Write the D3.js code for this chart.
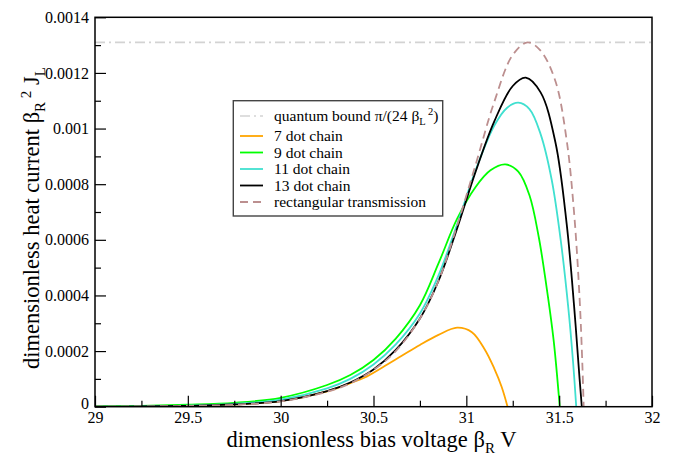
<!DOCTYPE html>
<html>
<head>
<meta charset="utf-8">
<script src="https://cdn.jsdelivr.net/npm/d3@7"></script>
<style>
  html, body { margin: 0; padding: 0; background: #fff; }
  svg { display: block; }
  text { font-family: "Liberation Serif", "DejaVu Serif", serif; }
</style>
</head>
<body>
<svg id="chart" width="680" height="459"></svg>
<script>
// ---------- data ----------
const quantumBound = 0.00131;

// series values are in units of 1e-4
const x7  = [29.0, 29.25, 29.5, 29.75, 30.0, 30.25, 30.375, 30.45, 30.55, 30.65, 30.75, 30.85, 30.95, 31.03, 31.1, 31.15, 31.19, 31.222];
const y7  = [0, 0.01, 0.03, 0.08, 0.2, 0.55, 0.85, 1.04, 1.42, 1.82, 2.22, 2.58, 2.84, 2.68, 2.05, 1.38, 0.72, 0];

const x9  = [29.0, 29.25, 29.5, 29.75, 30.0, 30.25, 30.375, 30.5, 30.62, 30.75, 30.85, 30.95, 31.05, 31.13, 31.21, 31.28, 31.34, 31.39, 31.43, 31.47, 31.503];
const y9  = [0.01, 0.03, 0.07, 0.14, 0.32, 0.78, 1.14, 1.68, 2.45, 3.65, 5.15, 6.75, 7.9, 8.5, 8.71, 8.45, 7.6, 6.1, 4.4, 2.4, 0];

const x11 = [29.0, 29.25, 29.5, 29.75, 30.0, 30.25, 30.375, 30.5, 30.62, 30.75, 30.85, 30.95, 31.05, 31.15, 31.22, 31.28, 31.34, 31.4, 31.46, 31.51, 31.55, 31.575, 31.592];
const y11 = [0, 0.01, 0.04, 0.1, 0.25, 0.66, 1.0, 1.52, 2.24, 3.35, 4.72, 6.55, 8.5, 10.1, 10.75, 10.93, 10.7, 9.8, 8.15, 5.9, 3.5, 1.6, 0];

const x13 = [29.0, 29.25, 29.5, 29.75, 30.0, 30.25, 30.375, 30.5, 30.62, 30.75, 30.85, 30.95, 31.05, 31.15, 31.25, 31.32, 31.4, 31.48, 31.54, 31.58, 31.61, 31.622];
const y13 = [0, 0.01, 0.03, 0.08, 0.2, 0.56, 0.87, 1.34, 2.04, 3.17, 4.52, 6.4, 8.45, 10.25, 11.53, 11.83, 11.3, 9.5, 6.6, 3.65, 1.0, 0];

const xRect = [29.0, 29.25, 29.5, 29.75, 30.0, 30.25, 30.375, 30.5, 30.62, 30.75, 30.85, 30.95, 31.05, 31.15, 31.25, 31.33, 31.4, 31.48, 31.54, 31.58, 31.61, 31.625, 31.632];
const yRect = [0, 0.01, 0.03, 0.07, 0.19, 0.54, 0.84, 1.32, 2.0, 3.17, 4.52, 6.5, 8.7, 10.95, 12.65, 13.1, 12.8, 11.7, 9.6, 7.0, 3.9, 1.5, 0];

const yUnit = 1e-4;

const xTicksMajor = [29, 29.5, 30, 30.5, 31, 31.5, 32];
const xTickLabels = ["29", "29.5", "30", "30.5", "31", "31.5", "32"];
const xTicksMinor = [29.25, 29.75, 30.25, 30.75, 31.25, 31.75];
const yTicksMajor = [0, 0.0002, 0.0004, 0.0006, 0.0008, 0.001, 0.0012, 0.0014];
const yTickLabels = ["0", "0.0002", "0.0004", "0.0006", "0.0008", "0.001", "0.0012", "0.0014"];
const yTicksMinor = [0.0001, 0.0003, 0.0005, 0.0007, 0.0009, 0.0011, 0.0013];

const seriesNames = ["7 dot chain", "9 dot chain", "11 dot chain", "13 dot chain", "rectangular transmission"];
const seriesColors = ["#ffa500", "#00ff00", "#40e0d0", "#000000", "#bc8f8f"];

// ---------- layout ----------
const svg = d3.select("#chart");
const L = 95, R = 652, T = 17.3, B = 406.7;
const x = d3.scaleLinear().domain([29, 32]).range([L, R]);
const y = d3.scaleLinear().domain([0, 0.0014]).range([B, T]);

const series = [
  {xs: x7, ys: y7}, {xs: x9, ys: y9}, {xs: x11, ys: y11}, {xs: x13, ys: y13}, {xs: xRect, ys: yRect}
].map((s, i) => ({
  name: seriesNames[i], color: seriesColors[i],
  pts: s.xs.map((v, j) => [v, s.ys[j] * yUnit])
}));

svg.append("clipPath").attr("id", "clip").append("rect")
  .attr("x", L).attr("y", T).attr("width", R - L).attr("height", B - T);

const plot = svg.append("g").attr("clip-path", "url(#clip)");

// quantum bound line
plot.append("line")
  .attr("x1", L).attr("x2", R)
  .attr("y1", y(quantumBound)).attr("y2", y(quantumBound))
  .attr("stroke", "#d3d3d3").attr("stroke-width", 1.6)
  .attr("stroke-dasharray", "10,4,2,4");

const line = d3.line().x(d => x(d[0])).y(d => y(d[1])).curve(d3.curveCatmullRom.alpha(0.5));

series.forEach((s, i) => {
  plot.append("path")
    .attr("d", line(s.pts))
    .attr("fill", "none")
    .attr("stroke", s.color)
    .attr("stroke-width", 1.8)
    .attr("stroke-dasharray", i === 4 ? "8,5" : null);
});

// ---------- axes ----------
const xAxis = svg.append("g").attr("transform", `translate(0,${B})`)
  .call(d3.axisBottom(x).tickValues(xTicksMajor).tickSize(-11).tickPadding(4.5)
    .tickFormat((d, i) => xTickLabels[i]));
const xAxisMinor = svg.append("g").attr("transform", `translate(0,${B})`)
  .call(d3.axisBottom(x).tickValues(xTicksMinor).tickSize(-6).tickFormat(""));
const yAxis = svg.append("g").attr("transform", `translate(${L},0)`)
  .call(d3.axisLeft(y).tickValues(yTicksMajor).tickSize(-11).tickPadding(6)
    .tickFormat((d, i) => yTickLabels[i]));
const yAxisMinor = svg.append("g").attr("transform", `translate(${L},0)`)
  .call(d3.axisLeft(y).tickValues(yTicksMinor).tickSize(-6).tickFormat(""));

[xAxis, xAxisMinor, yAxis, yAxisMinor].forEach(g => {
  g.select(".domain").remove();
  g.selectAll(".tick line").attr("stroke", "#000").attr("stroke-width", 1.2);
  g.selectAll(".tick text").attr("fill", "#000").attr("font-size", 16)
    .attr("font-family", "'Liberation Serif', serif");
});
yAxis.selectAll(".tick text").filter((d) => d === 0).attr("dy", "0.1em");

// frame
svg.append("rect").attr("x", L).attr("y", T).attr("width", R - L).attr("height", B - T)
  .attr("fill", "none").attr("stroke", "#000").attr("stroke-width", 1.5);

// ---------- axis titles ----------
const xt = svg.append("text").attr("x", (L + R) / 2 - 2).attr("y", 447)
  .attr("text-anchor", "middle").attr("font-size", 22.5).attr("fill", "#000");
xt.append("tspan").text("dimensionless bias voltage β");
xt.append("tspan").attr("font-size", 15).attr("dy", 6).text("R");
xt.append("tspan").attr("dy", -6).text(" V");

const yt = svg.append("text")
  .attr("transform", `translate(39,${(T + B) / 2 + 6}) rotate(-90)`)
  .attr("text-anchor", "middle").attr("font-size", 22.5).attr("fill", "#000");
yt.append("tspan").text("dimensionless heat current β");
yt.append("tspan").attr("font-size", 15).attr("dy", 6).text("R");
yt.append("tspan").attr("font-size", 15).attr("dy", -14).text(" 2");
yt.append("tspan").attr("dy", 8).text(" J");
yt.append("tspan").attr("font-size", 15).attr("dy", 6).text("L");

// ---------- legend ----------
const lg = svg.append("g");
lg.append("rect").attr("x", 233.3).attr("y", 100.7).attr("width", 209.4).attr("height", 115.3)
  .attr("fill", "#fff").attr("stroke", "#444").attr("stroke-width", 1.4);

const rowY = [116, 136, 152.5, 169, 185.5, 202];
const lx1 = 240, lx2 = 263, tx = 274;
const fs = 15.5;

lg.append("line").attr("x1", lx1).attr("x2", lx2).attr("y1", rowY[0]).attr("y2", rowY[0])
  .attr("stroke", "#d3d3d3").attr("stroke-width", 1.6).attr("stroke-dasharray", "10,4,2,4");
const qt = lg.append("text").attr("x", tx).attr("y", rowY[0] + 5).attr("font-size", fs).attr("fill", "#000");
qt.append("tspan").text("quantum bound π/(24 β");
qt.append("tspan").attr("font-size", 10.5).attr("dy", 4).text("L");
qt.append("tspan").attr("font-size", 10.5).attr("dy", -10).text(" 2");
qt.append("tspan").attr("dy", 6).text(")");

series.forEach((s, i) => {
  const yy = rowY[i + 1];
  lg.append("line").attr("x1", lx1).attr("x2", lx2).attr("y1", yy).attr("y2", yy)
    .attr("stroke", s.color).attr("stroke-width", 1.8)
    .attr("stroke-dasharray", i === 4 ? "8,5" : null);
  lg.append("text").attr("x", tx).attr("y", yy + 5).attr("font-size", fs).attr("fill", "#000")
    .text(s.name);
});
</script>
</body>
</html>
